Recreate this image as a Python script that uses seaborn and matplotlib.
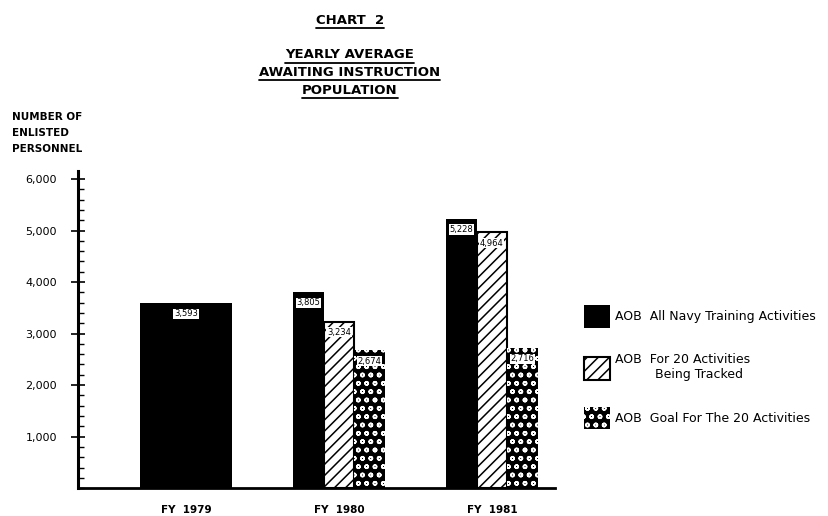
import matplotlib
matplotlib.use("Agg")
import matplotlib.pyplot as plt
from matplotlib.lines import Line2D
from matplotlib.ticker import MultipleLocator, FuncFormatter
import seaborn as sns
import pandas as pd

# data
years = ["FY  1979", "FY  1980", "FY  1981"]
series = ["AOB  All Navy Training Activities",
          "AOB  For 20 Activities\n          Being Tracked",
          "AOB  Goal For The 20 Activities"]
all_navy = [3593, 3805, 5228]
tracked = [3234, 4964]      # FY 1980, FY 1981
goal = [2674, 2716]         # FY 1980, FY 1981
ytick_vals = [1000, 2000, 3000, 4000, 5000, 6000]

df79 = pd.DataFrame({"year": years[:1], "value": all_navy[:1]})
df_grp = pd.DataFrame({
    "year": years[1:] * 3,
    "series": [series[0]] * 2 + [series[1]] * 2 + [series[2]] * 2,
    "value": all_navy[1:] + tracked + goal,
})

sns.set_style("ticks")
plt.rcParams["font.family"] = ["DejaVu Sans"]
plt.rcParams["hatch.linewidth"] = 1.1
for k in ("text.color", "axes.labelcolor", "xtick.color", "ytick.color",
          "axes.edgecolor"):
    plt.rcParams[k] = "black"

fig = plt.figure(figsize=(8.29, 5.16), dpi=100)
ax = fig.add_axes([0.094, 0.054, 0.575, 0.614])

sns.barplot(data=df79, x="year", y="value", order=years, color="black",
            width=0.6, saturation=1, errorbar=None, ax=ax)
sns.barplot(data=df_grp, x="year", y="value", hue="series", order=years,
            hue_order=series, palette=["black", "white", "black"],
            width=0.6, saturation=1, errorbar=None, legend=False, ax=ax)

# styles: solid black, diagonal hatch, white dots on black
for c in ax.containers[:2]:
    for b in c:
        b.set_facecolor("black")
        b.set_linewidth(0)
for b in ax.containers[2]:
    b.set_facecolor("white")
    b.set_edgecolor("black")
    b.set_linewidth(1.5)
    b.set_hatch("///")
for b in ax.containers[3]:
    b.set_facecolor("black")
    b.set_edgecolor("white")
    b.set_linewidth(0)
    b.set_hatch("oo")

for c in ax.containers:
    ax.bar_label(c, fmt="{:,.0f}", padding=-11, fontsize=6,
                 bbox=dict(fc="white", ec="none", pad=0.5))

ax.set_xlim(-0.706, 2.41)
ax.set_ylim(0, 6150)
ax.set_yticks(ytick_vals)
ax.yaxis.set_major_formatter(FuncFormatter(lambda v, p: f"{v:,.0f}"))
ax.yaxis.set_minor_locator(MultipleLocator(200))
ax.set_xlabel("")
ax.set_ylabel("")
sns.despine(ax=ax)
ax.spines["left"].set_linewidth(2.2)
ax.spines["bottom"].set_linewidth(2.0)
ax.tick_params(axis="x", length=0, pad=12, labelsize=7.5)
ax.tick_params(axis="y", which="major", direction="inout", length=10,
               width=1.2, pad=10, labelsize=8)
ax.tick_params(axis="y", which="minor", direction="in", length=4, width=1)
for lab in ax.get_xticklabels():
    lab.set_fontweight("bold")

fig.text(12 / 829, 1 - 112 / 516, "NUMBER OF\nENLISTED\nPERSONNEL",
         fontsize=7.5, fontweight="bold", ha="left", va="top",
         linespacing=1.75)

titles = [fig.text(0.422, 1 - 20 / 516, "CHART  2", fontsize=9.5,
                   fontweight="bold", ha="center", va="center")]
for y, s in [(55, "YEARLY AVERAGE"), (72, "AWAITING INSTRUCTION"),
             (90, "POPULATION")]:
    titles.append(fig.text(0.422, 1 - y / 516, s, fontsize=9.5,
                           fontweight="bold", ha="center", va="center"))

handles = [ax.containers[i].patches[0] for i in (1, 2, 3)]
fig.legend(handles, series, loc="upper left",
           bbox_to_anchor=(584 / 829, 1 - 305 / 516), frameon=False,
           fontsize=9, handlelength=2.1, handleheight=2.4,
           labelspacing=2.05, handletextpad=0.35, borderpad=0,
           borderaxespad=0)

# underline the title lines
fig.canvas.draw()
renderer = fig.canvas.get_renderer()
inv = fig.transFigure.inverted()
for t in titles:
    bb = t.get_window_extent(renderer)
    x0, y0 = inv.transform((bb.x0, bb.y0 - 1))
    x1, _ = inv.transform((bb.x1, bb.y0 - 1))
    fig.add_artist(Line2D([x0, x1], [y0, y0], transform=fig.transFigure,
                          color="black", lw=1.3))

fig.savefig("out.png", dpi=100)
